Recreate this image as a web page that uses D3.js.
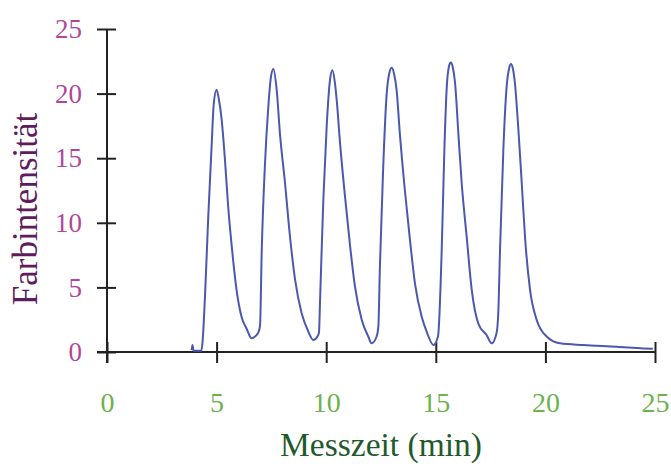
<!DOCTYPE html>
<html>
<head>
<meta charset="utf-8">
<script src="https://cdn.jsdelivr.net/npm/d3@7"></script>
<style>
  body { margin: 0; background: #fff; }
  svg { display: block; font-family: "Liberation Serif", "Times New Roman", serif; }
</style>
</head>
<body>
<svg></svg>
<script>
// Messzeit (min) and Farbintensität
var times = [3.86, 3.9, 3.95, 4.3, 4.35, 4.47, 4.62, 4.78, 4.87, 5.0, 5.1, 5.23, 5.38, 5.53, 5.69, 5.91, 6.14, 6.37, 6.6, 6.75, 6.9, 6.98,
  7.06, 7.2, 7.36, 7.48, 7.59, 7.74, 7.89, 8.12, 8.35, 8.58, 8.88, 9.18, 9.41, 9.6, 9.67,
  9.72, 9.87, 10.02, 10.17, 10.28, 10.4, 10.48, 10.63, 10.86, 11.09, 11.31, 11.62, 11.92, 12.07, 12.3, 12.38,
  12.45, 12.6, 12.76, 12.88, 12.99, 13.1, 13.21, 13.36, 13.59, 13.82, 14.05, 14.36, 14.6, 14.89, 15.1,
  15.27, 15.39, 15.5, 15.6, 15.68, 15.78, 15.88, 16.03, 16.18, 16.41, 16.64, 16.94, 17.32, 17.55, 17.77, 17.85,
  17.93, 18.08, 18.23, 18.35, 18.43, 18.52, 18.61, 18.76, 18.92, 19.07, 19.3, 19.6, 20.06, 20.67, 21.73, 23.25, 24.47, 24.9];
var intensity = [0.15, 0.55, 0.1, 0.1, 0.6, 4.3, 10.5, 16.2, 19.2, 20.3, 19.6, 18.0, 14.9, 11.2, 8.2, 4.8, 2.7, 1.8, 1.06, 1.2, 1.5, 2.0,
  7.9, 14.3, 19.0, 21.3, 21.9, 20.3, 16.9, 13.1, 8.9, 5.6, 3.0, 1.6, 0.93, 1.2, 1.5,
  4.0, 11.8, 17.4, 21.0, 21.8, 20.8, 19.5, 16.2, 12.0, 8.2, 5.1, 2.5, 1.2, 0.67, 1.2, 2.0,
  6.6, 14.3, 20.0, 21.6, 22.0, 21.5, 20.3, 16.9, 12.5, 8.7, 5.3, 2.7, 1.5, 0.54, 1.2,
  7.9, 15.6, 20.5, 22.1, 22.4, 22.0, 20.8, 16.9, 13.1, 8.9, 4.8, 2.2, 1.3, 0.67, 1.45, 3.0,
  7.9, 15.6, 20.5, 22.0, 22.3, 21.9, 20.8, 17.4, 13.1, 8.9, 4.8, 2.5, 1.2, 0.67, 0.54, 0.41, 0.28, 0.25];
var xTicks = [0, 5, 10, 15, 20, 25];
var yTicks = [0, 5, 10, 15, 20, 25];

var width = 671;
var height = 473;

var svg = d3.select("svg")
    .attr("width", width)
    .attr("height", height);

var x = d3.scaleLinear().domain([0, 25]).range([107, 655]);
var y = d3.scaleLinear().domain([0, 25]).range([352, 29]);

var data = times.map((t, i) => [t, intensity[i]]);

// y axis
var yAxis = svg.append("g")
    .attr("transform", `translate(${x(0)},0)`)
    .call(d3.axisLeft(y).tickValues(yTicks).tickSize(10).tickPadding(15));
yAxis.select(".domain").remove();
yAxis.selectAll(".tick line").attr("x1", 9).attr("stroke", "#222").attr("stroke-width", 2);
yAxis.selectAll(".tick text")
    .attr("fill", "#b0489a")
    .style("font-size", "27px")
    .style("font-family", "Liberation Serif, serif");

// x axis
var xAxis = svg.append("g")
    .attr("transform", `translate(0,${y(0)})`)
    .call(d3.axisBottom(x).tickValues(xTicks).tickSize(11).tickPadding(29));
xAxis.select(".domain").remove();
xAxis.selectAll(".tick line").attr("y1", -10).attr("stroke", "#222").attr("stroke-width", 2);
xAxis.selectAll(".tick text")
    .attr("fill", "#6cb24e")
    .style("font-size", "28px")
    .style("font-family", "Liberation Serif, serif");

// axis lines
svg.append("line")
    .attr("x1", x(0)).attr("x2", x(0))
    .attr("y1", y(25)).attr("y2", y(0) + 11)
    .attr("stroke", "#222").attr("stroke-width", 2);
svg.append("line")
    .attr("x1", x(0) - 10).attr("x2", x(25))
    .attr("y1", y(0)).attr("y2", y(0))
    .attr("stroke", "#222").attr("stroke-width", 2);

// curve
var line = d3.line()
    .x(d => x(d[0]))
    .y(d => y(d[1]))
    .curve(d3.curveMonotoneX);

svg.append("path")
    .datum(data)
    .attr("d", line)
    .attr("fill", "none")
    .attr("stroke", "#4a58b0")
    .attr("stroke-width", 2);

// titles
svg.append("text")
    .attr("transform", "translate(37,209) rotate(-90)")
    .attr("text-anchor", "middle")
    .attr("fill", "#5e1c5c")
    .style("font-size", "35px")
    .text("Farbintensität");

svg.append("text")
    .attr("x", 381)
    .attr("y", 456)
    .attr("text-anchor", "middle")
    .attr("fill", "#1f5a2c")
    .style("font-size", "33.5px")
    .text("Messzeit (min)");
</script>
</body>
</html>
